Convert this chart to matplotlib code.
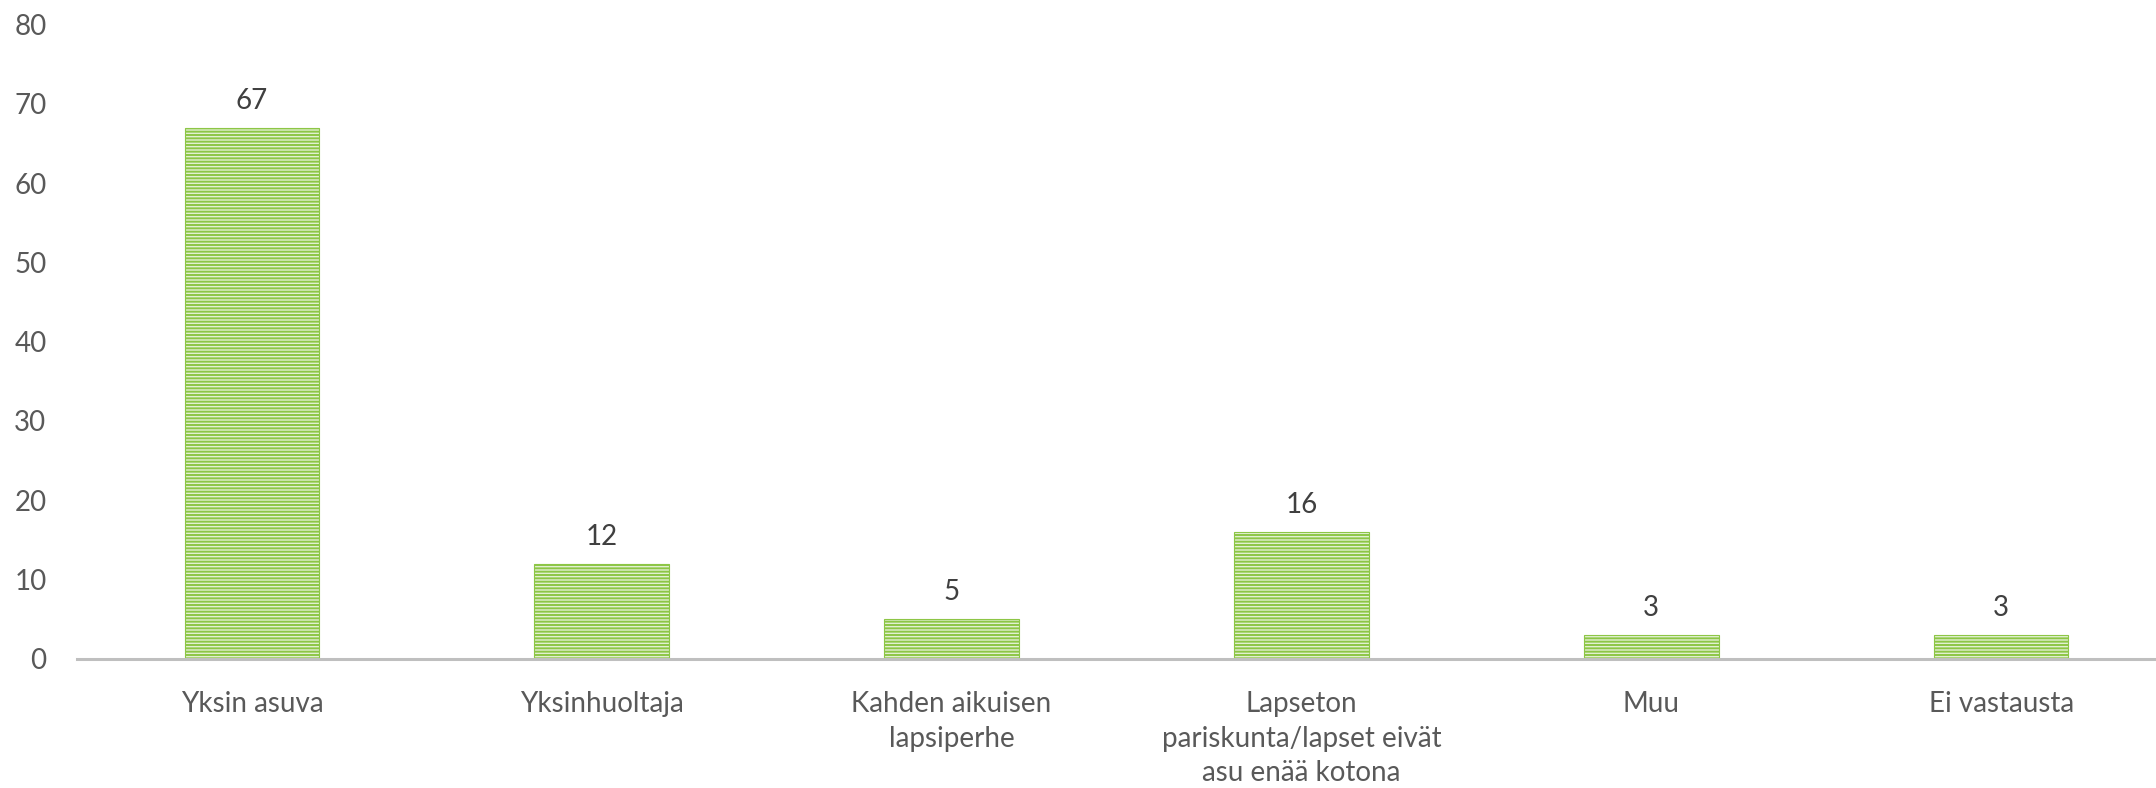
import matplotlib.pyplot as plt

categories = ["Yksin asuva", "Yksinhuoltaja", "Kahden aikuisen\nlapsiperhe",
              "Lapseton\npariskunta/lapset eivät\nasu enää kotona", "Muu", "Ei vastausta"]
values = [67, 12, 5, 16, 3, 3]
yticks = [0, 10, 20, 30, 40, 50, 60, 70, 80]

plt.rcParams['font.family'] = ['Lato', 'DejaVu Sans']
plt.rcParams['hatch.linewidth'] = 1.4

fig = plt.figure(figsize=(21.56, 7.88), dpi=100)
# axes runs a bit past the right edge, like the original
ax = fig.add_axes([77 / 2156, 0.164, 2099 / 2156, 0.805])

x = list(range(len(categories)))
ax.bar(x, values, width=0.385, facecolor='#e2f0d2', edgecolor='#8dc646',
       hatch='-----', linewidth=0.8)

for xi, v in zip(x, values):
    ax.annotate(str(v), (xi, v), xytext=(0, 10), textcoords='offset points',
                ha='center', va='bottom', fontsize=20, color='#404040')

ax.set_xlim(-0.5, 5.5)
ax.set_ylim(0, 80)
ax.set_yticks(yticks)
ax.set_xticks(x)
ax.set_xticklabels(categories, fontsize=20, color='#595959', linespacing=1.42)
ax.tick_params(axis='y', labelsize=20, labelcolor='#595959', length=0, pad=22)
ax.tick_params(axis='x', length=0, pad=23)
for s in ['top', 'right', 'left']:
    ax.spines[s].set_visible(False)
ax.spines['bottom'].set_color('#bfbfbf')
ax.spines['bottom'].set_linewidth(2.2)

fig.savefig('out.png', dpi=100)
